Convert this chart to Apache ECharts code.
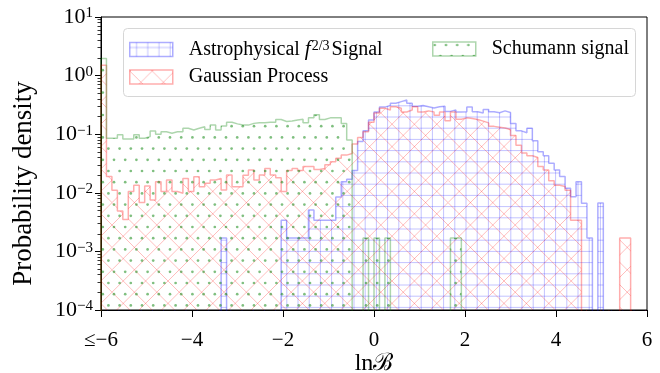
<!DOCTYPE html>
<html><head><meta charset="utf-8">
<script src="https://cdn.jsdelivr.net/npm/echarts@6/dist/echarts.min.js"></script>
<style>html,body{margin:0;padding:0;background:#fff}#c{width:660px;height:373px}</style>
</head><body><div id="c"></div>
<script>
// ---- data (density per bin; bins of width 0.12 starting at -6, first bin holds all values <= -6)
const binStart = -6;
const binWidth = 0.12;
const astro = [
 0,0,0,0,0,0,0,0,0,0, 0,0,0,0,0,0,0,0,0,0, 0,0,0.0017,0,0,0,0,0,0,0,
 0,0,0,0.0034,0.0017,0.0017,0.0017,0.0017,0.0051,0.0034,
 0.0034,0.0034,0.0034,0.0085,0.0155,0.017,0.024,0.075,0.115,0.175,
 0.24,0.29,0.31,0.337,0.36,0.384,0.337,0.30,0.31,0.295,
 0.28,0.295,0.30,0.245,0.26,0.24,0.242,0.29,0.242,0.23,
 0.265,0.242,0.232,0.25,0.235,0.153,0.114,0.106,0.126,0.077,
 0.05,0.043,0.032,0.0245,0.019,0.012,0.0086,0.0155,0.0066,0.0017,
 0,0.0067,0,0,0,0,0,0,0,0
];
const gauss = [
 1.5,0.019,0.011,0.0049,0.0035,0.0105,0.0135,0.0068,0.013,0.0075,
 0.0155,0.0105,0.0165,0.0105,0.0098,0.0176,0.0105,0.0188,0.0127,0.0145,
 0.0165,0.0176,0.0112,0.0201,0.0127,0.0127,0.02,0.0245,0.0165,0.0201,
 0.026,0.0201,0.018,0.0105,0.024,0.026,0.024,0.028,0.028,0.025,
 0.026,0.03,0.034,0.039,0.044,0.047,0.068,0.088,0.11,0.16,
 0.23,0.277,0.259,0.295,0.277,0.24,0.259,0.295,0.24,0.25,
 0.24,0.21,0.24,0.17,0.24,0.18,0.19,0.185,0.178,0.167,
 0.156,0.136,0.132,0.128,0.12,0.095,0.065,0.048,0.043,0.04,
 0.028,0.0245,0.016,0.0135,0.0128,0.011,0.0034,0.0034,0,0,
 0,0,0,0,0,0.0017,0.0017,0,0,0
];
const schumann = [
 1.95,0.085,0.085,0.098,0.083,0.083,0.098,0.085,0.091,0.113,
 0.10,0.11,0.104,0.11,0.11,0.126,0.118,0.126,0.134,0.12,
 0.143,0.118,0.138,0.16,0.15,0.143,0.143,0.153,0.157,0.157,
 0.16,0.16,0.178,0.165,0.168,0.175,0.18,0.157,0.19,0.215,
 0.178,0.19,0.19,0.19,0.153,0.08,0,0,0.0017,0,
 0.0017,0,0.0017,0,0,0,0,0,0,0,
 0,0,0,0,0.0017,0.0017,0,0,0,0,
 0,0,0,0,0,0,0,0,0,0,
 0,0,0,0,0,0,0,0,0,0,
 0,0,0,0,0,0,0,0,0,0
];
const seriesNames = ['Astrophysical f^(2/3) Signal', 'Gaussian Process', 'Schumann signal'];
const xTicks = [-6, -4, -2, 0, 2, 4, 6];
const xTickLabels = ['≤−6', '−4', '−2', '0', '2', '4', '6'];
const yTicks = [1e-4, 1e-3, 1e-2, 1e-1, 1, 10];
const yTickExponents = ['−4', '−3', '−2', '−1', '0', '1'];

// ---- styling helpers
const FONT = "'Liberation Serif', 'DejaVu Serif', serif";
const S = 11.2, T = 112;
function tile(draw) {
  const c = document.createElement('canvas'); c.width = T; c.height = T;
  draw(c.getContext('2d')); return c;
}
const gridTile = tile(ctx => {
  ctx.strokeStyle = 'rgba(0,0,255,0.24)'; ctx.lineWidth = 1; ctx.beginPath();
  for (let i = -1; i <= 10; i++) {
    const p = 6.8 + i * S; ctx.moveTo(p, 0); ctx.lineTo(p, T);
    const q = 5.0 + i * S; ctx.moveTo(0, q); ctx.lineTo(T, q);
  }
  ctx.stroke();
});
const crossTile = tile(ctx => {
  ctx.strokeStyle = 'rgba(255,0,0,0.26)'; ctx.lineWidth = 1; ctx.beginPath();
  for (let c = -2 * T + 1.0; c <= 2 * T; c += 2 * S) {
    ctx.moveTo(0, c); ctx.lineTo(T, c + T);
    ctx.moveTo(0, c); ctx.lineTo(T, c - T);
  }
  ctx.stroke();
});
const dotTile = tile(ctx => {
  ctx.fillStyle = 'rgba(0,128,0,0.5)';
  for (let j = 0; j < 10; j++) {
    for (let i = -1; i <= 10; i++) {
      const x = 2.0 + (j % 2 ? S / 2 : 0) + i * S, y = 3.0 + j * S;
      ctx.beginPath(); ctx.arc(x, y, 1.35, 0, Math.PI * 2); ctx.fill();
    }
  }
});
const pat = c => ({ image: c, repeat: 'repeat' });
const styles = [
  { line: 'rgba(0,0,255,0.32)', fill: pat(gridTile) },
  { line: 'rgba(255,0,0,0.32)', fill: pat(crossTile) },
  { line: 'rgba(0,128,0,0.32)', fill: pat(dotTile) }
];

const FLOOR = 1e-6; // empty bins fall below the axis and are clipped
function stepData(vals) {
  const pts = [[binStart, FLOOR]];
  vals.forEach((v, k) => pts.push([+(binStart + k * binWidth).toFixed(4), v > 0 ? v : FLOOR]));
  pts.push([+(binStart + vals.length * binWidth).toFixed(4), FLOOR]);
  return pts;
}
const allVals = [astro, gauss, schumann];
const series = allVals.map((vals, i) => ({
  name: seriesNames[i], type: 'line', step: 'end', symbol: 'none', clip: true,
  data: stepData(vals),
  lineStyle: { color: styles[i].line, width: 1.5 },
  itemStyle: { color: styles[i].line },
  areaStyle: { color: styles[i].fill, opacity: 1, origin: 'start' },
  emphasis: { disabled: true }, silent: true, z: 2 + i
}));

const minorY = [];
for (let e = -4; e < 1; e++) for (let m = 2; m <= 9; m++) minorY.push(m * Math.pow(10, e));

const legendItem = i => ({
  name: seriesNames[i], icon: 'rect',
  itemStyle: { color: styles[i].fill, borderColor: styles[i].line, borderWidth: 1.5 }
});
const legendText = {
  fontFamily: FONT, fontSize: 20, color: '#000', padding: [0, 0, 0, 11],
  rich: {
    t: { fontFamily: FONT, fontSize: 20, color: '#000' },
    it: { fontFamily: FONT, fontSize: 21, fontStyle: 'italic', color: '#000' },
    sup: { fontFamily: FONT, fontSize: 14, color: '#000', verticalAlign: 'top', padding: [0, 2, 0, 1] }
  }
};
const legendFmt = n => n.startsWith('Astro') ? '{t|Astrophysical }{it|f}{sup|2/3}{t|Signal}' : '{t|' + n + '}';

const chart = echarts.init(document.getElementById('c'), null, { renderer: 'canvas' });
chart.setOption({
  animation: false,
  backgroundColor: '#fff',
  grid: {
    left: 101, right: 13, top: 17, bottom: 63, containLabel: false, outerBoundsMode: 'none',
    show: true, borderColor: '#000', borderWidth: 1, backgroundColor: 'transparent'
  },
  xAxis: {
    type: 'value', min: -6, max: 6, interval: 2,
    axisLine: { show: true, onZero: false, lineStyle: { color: '#000', width: 1 } },
    axisTick: { show: true, length: 7, lineStyle: { color: '#000', width: 1 } },
    splitLine: { show: false },
    axisLabel: {
      margin: 20, fontFamily: FONT, fontSize: 21, color: '#000',
      formatter: v => xTickLabels[xTicks.indexOf(v)]
    },
    name: 'lnℬ', nameLocation: 'middle', nameGap: 42, nameMoveOverlap: false,
    nameTextStyle: { fontFamily: FONT, fontSize: 24, color: '#000' }
  },
  yAxis: [{
    type: 'log', logBase: 10, min: 1e-4, max: 10,
    axisLine: { show: true, onZero: false, lineStyle: { color: '#000', width: 1 } },
    axisTick: { show: true, length: 6, customValues: yTicks, lineStyle: { color: '#000', width: 1 } },
    splitLine: { show: false },
    axisLabel: {
      margin: 8, customValues: yTicks, fontFamily: FONT, color: '#000',
      formatter: v => '{b|10}{e|' + yTickExponents[Math.round(Math.log10(v)) + 4] + '}',
      rich: {
        b: { fontFamily: FONT, fontSize: 22, color: '#000' },
        e: { fontFamily: FONT, fontSize: 15, color: '#000', verticalAlign: 'top' }
      }
    },
    name: 'Probability density', nameLocation: 'middle', nameGap: 64, nameRotate: 90, nameMoveOverlap: false,
    nameTextStyle: { fontFamily: FONT, fontSize: 27, color: '#000', padding: [0, 40, 0, 0] }
  }, {
    type: 'log', logBase: 10, min: 1e-4, max: 10, position: 'left',
    axisLine: { show: false, onZero: false }, splitLine: { show: false }, axisLabel: { show: false },
    axisTick: { show: true, length: 3.5, customValues: minorY, lineStyle: { color: '#000', width: 0.8 } }
  }],
  legend: [{
    orient: 'vertical', left: 124, top: 34, itemWidth: 43, itemHeight: 14, itemGap: 7,
    selectedMode: false, data: [legendItem(0), legendItem(1)],
    formatter: legendFmt, textStyle: legendText
  }, {
    orient: 'vertical', left: 427, top: 34, itemWidth: 43, itemHeight: 14,
    selectedMode: false, data: [legendItem(2)],
    formatter: legendFmt, textStyle: legendText
  }],
  graphic: [{
    type: 'rect', z: 3, silent: true,
    shape: { x: 123.5, y: 28.5, width: 512, height: 68, r: 4 },
    style: { fill: 'rgba(255,255,255,0.8)', stroke: '#d6d6d6', lineWidth: 1 }
  }],
  series
});
</script></body></html>
